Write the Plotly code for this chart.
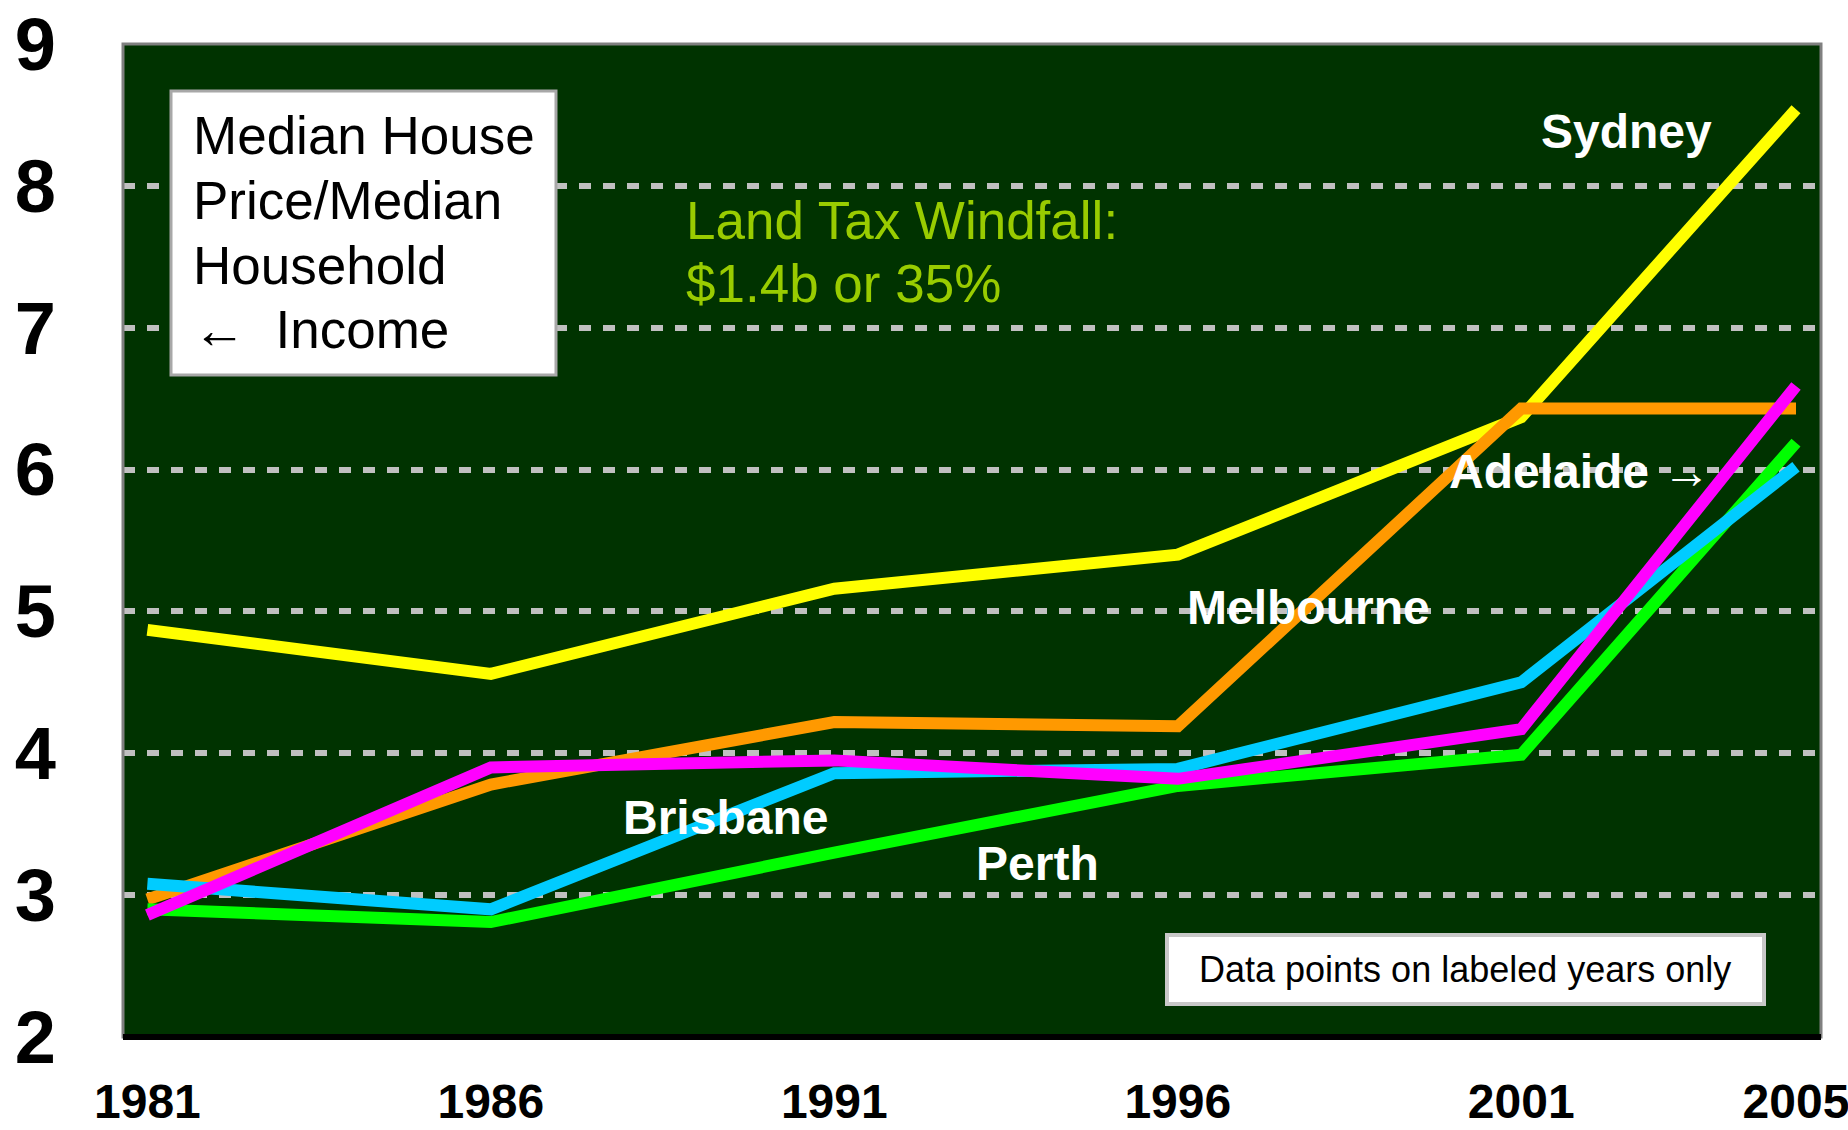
import plotly.graph_objects as go

# ---- data ----
years = [1981, 1986, 1991, 1996, 2001, 2005]
sydney = [4.87, 4.56, 5.16, 5.40, 6.37, 8.54]
melbourne = [2.97, 3.78, 4.22, 4.19, 6.43, 6.43]
perth = [2.90, 2.81, 3.30, 3.77, 3.99, 6.19]
brisbane = [3.08, 2.90, 3.86, 3.89, 4.50, 6.02]
adelaide = [2.86, 3.90, 3.95, 3.82, 4.17, 6.59]
x_tick_labels = ["1981", "1986", "1991", "1996", "2001", "2005"]
y_ticks = [2, 3, 4, 5, 6, 7, 8, 9]

W, H = 1848, 1130
L, R, T, B = 123, 27, 44, 93
PW, PH = W - L - R, H - T - B

def px(X):
    return (X - L) / PW

def py(Y):
    return (H - B - Y) / PH

ARIAL = "Liberation Sans, Arial, sans-serif"

fig = go.Figure()
series = [
    ("Sydney", sydney, "#FFFF00"),
    ("Melbourne", melbourne, "#FF9900"),
    ("Perth", perth, "#00FF00"),
    ("Brisbane", brisbane, "#00CCFF"),
    ("Adelaide", adelaide, "#FF00FF"),
]
for name, vals, col in series:
    fig.add_trace(go.Scatter(x=years, y=vals, mode="lines", name=name,
                             line=dict(color=col, width=12), showlegend=False))

shapes = [
    dict(type="rect", xref="paper", yref="paper", x0=0, x1=1, y0=0, y1=1,
         line=dict(color="#808080", width=3), layer="above"),
    dict(type="rect", xref="paper", yref="paper", x0=px(171), x1=px(556),
         y0=py(375), y1=py(91), fillcolor="white",
         line=dict(color="#A8A8A8", width=3), layer="above"),
    dict(type="rect", xref="paper", yref="paper", x0=px(1167), x1=px(1764),
         y0=py(1004), y1=py(935), fillcolor="white",
         line=dict(color="#C8C8C8", width=4), layer="above"),
    dict(type="line", xref="paper", yref="paper", x0=0, x1=1, y0=0, y1=0,
         line=dict(color="black", width=6), layer="above"),
]

ann = []
def add_text(text, X, Y, size, color, bold=False, xanchor="center"):
    ann.append(dict(text=text, xref="paper", yref="paper", x=px(X), y=py(Y),
                    xanchor=xanchor, yanchor="middle", showarrow=False,
                    font=dict(size=size, color=color, family=ARIAL,
                              weight="bold" if bold else "normal")))

box_lines = ["Median House", "Price/Median", "Household", "\u2190\u00a0\u00a0Income"]
for t, Y in zip(box_lines, [136, 200, 265, 330]):
    add_text(t, 191, Y, 53, "black", xanchor="left")

add_text("Land Tax Windfall:", 684, 220, 53, "#99CC00", xanchor="left")
add_text("$1.4b or 35%", 684, 283, 53, "#99CC00", xanchor="left")

add_text("Sydney", 1626, 132, 48, "white", bold=True)
add_text("Adelaide \u2192", 1579, 471, 48, "white", bold=True)
add_text("Melbourne", 1308, 607, 48, "white", bold=True)
add_text("Brisbane", 725, 817, 48, "white", bold=True)
add_text("Perth", 1037, 863, 48, "white", bold=True)

add_text("Data points on labeled years only", 1465, 969, 36, "black")

fig.update_layout(
    width=W, height=H,
    margin=dict(l=L, r=R, t=T, b=B, pad=0, autoexpand=False),
    paper_bgcolor="white",
    plot_bgcolor="#003300",
    shapes=shapes,
    annotations=ann,
    xaxis=dict(range=[1980.645, 2005.364], tickvals=years, ticktext=x_tick_labels,
               showgrid=False, zeroline=False, showline=False, ticks="",
               automargin=False, ticklabeloverflow="allow",
               tickfont=dict(size=48, color="black", family=ARIAL, weight="bold"),
               ticklabelstandoff=32),
    yaxis=dict(range=[2, 9], tickvals=y_ticks, showgrid=True,
               gridcolor="#C0C0C0", gridwidth=6, griddash="12px,12px",
               zeroline=False, showline=False, ticks="", automargin=False,
               ticklabeloverflow="allow",
               tickfont=dict(size=74, color="black", family=ARIAL, weight="bold"),
               ticklabelstandoff=66),
)

fig.write_html(
    "out.html",
    config={"displayModeBar": False},
    post_script="document.body.style.margin='0';document.body.style.overflow='hidden';",
)
